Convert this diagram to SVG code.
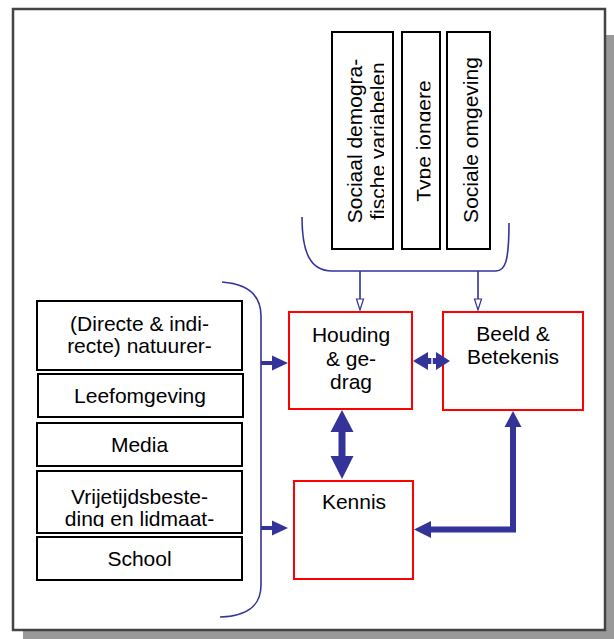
<svg xmlns="http://www.w3.org/2000/svg" width="614" height="639" viewBox="0 0 614 639">
<defs>
<style>
.t{font-family:"Liberation Sans",Arial,sans-serif;font-size:21px;fill:#000;text-anchor:middle}
.bk{fill:#fff;stroke:#000;stroke-width:2}
.rd{fill:#fff;stroke:#ff0000;stroke-width:2}
.br{fill:none;stroke:#333399;stroke-width:1.6}
.ar{fill:#333399;stroke:none}
.oa{fill:#fff;stroke:#333399;stroke-width:1.2}
</style>
<clipPath id="cA2"><rect x="332" y="32" width="52" height="217"/></clipPath>
<clipPath id="cB"><rect x="402" y="32" width="28.5" height="217"/></clipPath>
<clipPath id="c4"><rect x="37" y="471" width="205" height="56"/></clipPath>
</defs>
<rect x="23" y="35" width="592" height="605" fill="#999"/>
<rect x="13" y="9" width="592" height="621" fill="#fff" stroke="#444" stroke-width="2.5"/>

<g id="sociaal"><rect class="bk" x="332" y="32" width="61" height="217"/>
<text class="t" transform="translate(362,141) rotate(-90)">Sociaal demogra-</text>
<g clip-path="url(#cA2)"><text class="t" transform="translate(385,141) rotate(-90)">fische variabelen</text></g></g>
<g id="type"><rect class="bk" x="402" y="32" width="38" height="217"/>
<g clip-path="url(#cB)"><text class="t" transform="translate(431,141) rotate(-90)">Type jongere</text></g></g>
<g id="sociale"><rect class="bk" x="447" y="32" width="43" height="217"/>
<text class="t" transform="translate(478,140) rotate(-90)">Sociale omgeving</text></g>

<g id="natuur"><rect class="bk" x="37" y="301" width="205" height="69"/>
<text class="t" x="139.5" y="331">(Directe &amp; indi-</text>
<text class="t" x="139.5" y="353">recte) natuurer-</text></g>
<g id="leefomgeving"><rect class="bk" x="38" y="374" width="205" height="43"/>
<text class="t" x="140" y="403">Leefomgeving</text></g>
<g id="media"><rect class="bk" x="37" y="423" width="205" height="43"/>
<text class="t" x="139.5" y="452">Media</text></g>
<g id="vrijetijd"><rect class="bk" x="37" y="471" width="205" height="62"/>
<g clip-path="url(#c4)"><text class="t" x="139.5" y="504">Vrijetijdsbeste-</text>
<text class="t" x="139.5" y="526">ding en lidmaat-</text></g></g>
<g id="school"><rect class="bk" x="37" y="537" width="205" height="43"/>
<text class="t" x="139.5" y="566">School</text></g>

<g id="houding"><rect class="rd" x="289" y="312" width="123" height="97"/>
<text class="t" x="351" y="342">Houding</text>
<text class="t" x="351" y="365.5">&amp; ge-</text>
<text class="t" x="351" y="389">drag</text></g>
<g id="beeld"><rect class="rd" x="443" y="312" width="140" height="98"/>
<text class="t" x="513" y="341">Beeld &amp;</text>
<text class="t" x="513" y="364">Betekenis</text></g>
<g id="kennis"><rect class="rd" x="294" y="481" width="119" height="98"/>
<text class="t" x="354" y="509">Kennis</text></g>

<g id="connectors">
<path class="br" d="M302,217 C302,252 310,271 332,271 L496,271 C505,271 509,262 509,223"/>
<path class="br" d="M360,271 V300 M478,271 V300"/>
<path class="oa" d="M356.5,299 L363.5,299 L360,310 Z M474.5,299 L481.5,299 L478,310 Z"/>
<path class="br" d="M222,282 C249,284 261,296 261,316 L261,585 C261,605 249,616 220,617"/>
<path class="ar" d="M261,361 H272 V355.5 L288,363 L272,370.5 V365 H261 Z"/>
<path class="ar" d="M261,526 H272 V520.5 L288,528 L272,535.5 V530 H261 Z"/>
<path class="ar" d="M413,361 L428,352 V358 H431.3 V364 H428 V370 Z"/>
<path class="ar" d="M450,361 L436,352 V358 H432.8 V364 H436 V370 Z"/>
<path class="ar" d="M342,410 L353.5,432 H345.5 V456 H353.5 L342,479 L330.5,456 H338.5 V432 H330.5 Z"/>
<path class="ar" d="M513,411 L521.5,427 H516 V532.5 H431 V538 L414,529.5 L431,521 V526.5 H510 V427 H504.5 Z"/>
</g>
</svg>
